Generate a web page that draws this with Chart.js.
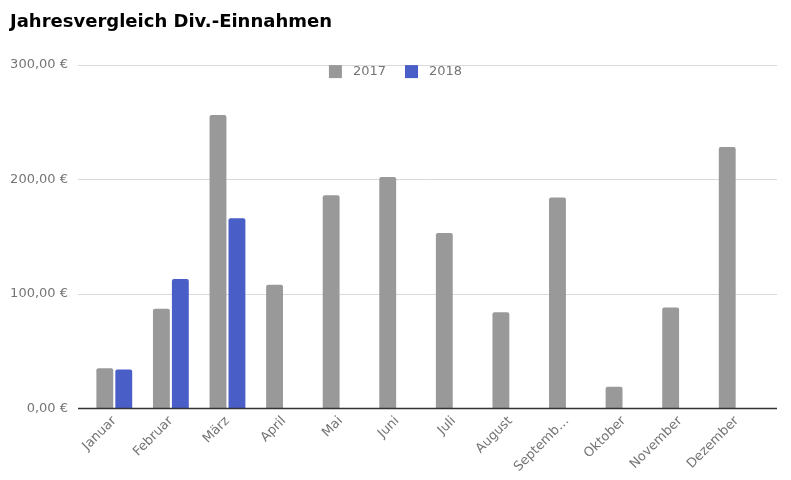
<!DOCTYPE html>
<html>
<head>
<meta charset="utf-8">
<script src="https://cdn.jsdelivr.net/npm/chart.js@4"></script>
<style>
  body { margin: 0; background: #fff; }
  #wrap { width: 791px; height: 480px; }
</style>
</head>
<body>
<div id="wrap"><canvas id="vergleich"></canvas></div>
<script>
const monate = ["Januar", "Februar", "März", "April", "Mai", "Juni", "Juli", "August", "September", "Oktober", "November", "Dezember"];
const werte2017 = [35, 87, 256, 108, 186, 202, 153, 84, 184, 19, 88, 228];
const werte2018 = [34, 113, 166, null, null, null, null, null, null, null, null, null];
const yTicks = [0, 100, 200, 300];

const grau = "#999999";
const blau = "#4a5ec8";

function euro(v) {
    return v.toFixed(2).replace(".", ",") + " €";
}

// Gitterlinien, Achse und Legende wie im Original (Legende liegt im Diagramm)
const extras = {
    id: "extras",
    beforeDatasetsDraw(chart) {
        const ctx = chart.ctx;
        const area = chart.chartArea;
        const y = chart.scales.y;
        ctx.save();
        ctx.lineWidth = 1;
        ctx.strokeStyle = "#d9d9d9";
        yTicks.slice(1).forEach((t) => {
            const py = Math.round(y.getPixelForValue(t)) + 0.5;
            ctx.beginPath();
            ctx.moveTo(area.left - 8, py);
            ctx.lineTo(area.right + 12, py);
            ctx.stroke();
        });
        ctx.restore();
    },
    afterDatasetsDraw(chart) {
        const ctx = chart.ctx;
        const area = chart.chartArea;
        const y = chart.scales.y;
        ctx.save();
        ctx.strokeStyle = "#333333";
        ctx.lineWidth = 1.5;
        const py = y.getPixelForValue(0);
        ctx.beginPath();
        ctx.moveTo(area.left - 8, py);
        ctx.lineTo(area.right + 12, py);
        ctx.stroke();

        ctx.font = "13px 'DejaVu Sans'";
        ctx.textBaseline = "middle";
        const sets = chart.data.datasets;
        const items = sets.map((d) => 13 + 11 + ctx.measureText(d.label).width);
        const gap = 19;
        let total = items.reduce((a, b) => a + b, 0) + gap * (items.length - 1);
        let x = chart.width / 2 - total / 2;
        const ly = area.top + 7;
        sets.forEach((d, i) => {
            ctx.fillStyle = d.backgroundColor;
            ctx.fillRect(x, ly - 6.5, 13, 13);
            ctx.fillStyle = "#757575";
            ctx.fillText(d.label, x + 24, ly);
            x += items[i] + gap;
        });
        ctx.restore();
    },
};

new Chart(document.getElementById("vergleich"), {
    type: "bar",
    data: {
        labels: monate,
        datasets: [
            { label: "2017", data: werte2017, backgroundColor: grau, borderRadius: 2, borderSkipped: "bottom" },
            { label: "2018", data: werte2018, backgroundColor: blau, borderRadius: 2, borderSkipped: "bottom" },
        ],
    },
    options: {
        responsive: true,
        maintainAspectRatio: false,
        animation: false,
        categoryPercentage: 0.67,
        barPercentage: 0.89,
        layout: { padding: { left: 10, right: 26, top: 0, bottom: 0 } },
        plugins: {
            legend: { display: false },
            tooltip: { enabled: false },
            title: {
                display: true,
                text: "Jahresvergleich Div.-Einnahmen",
                align: "start",
                color: "#000",
                font: { family: "'DejaVu Sans'", size: 18, weight: "bold" },
                padding: { top: 12, bottom: 31 },
            },
        },
        scales: {
            x: {
                grid: { display: false, drawTicks: false },
                border: { display: false },
                afterFit: (s) => { s.paddingLeft = 0; s.paddingRight = 0; },
                ticks: {
                    color: "#757575",
                    font: { family: "'DejaVu Sans'", size: 13 },
                    maxRotation: 45,
                    minRotation: 45,
                    autoSkip: false,
                    padding: 5,
                    callback: function (v) {
                        const l = this.getLabelForValue(v);
                        return l.length > 8 ? l.slice(0, 7) + "…" : l;
                    },
                },
            },
            y: {
                min: 0,
                max: 300,
                afterBuildTicks: (s) => { s.ticks = yTicks.map((v) => ({ value: v })); },
                afterFit: (s) => { s.width = 76; },
                grid: { display: false, drawTicks: false },
                border: { display: false },
                ticks: {
                    color: "#757575",
                    font: { family: "'DejaVu Sans'", size: 13 },
                    padding: 18,
                    callback: (v) => euro(v),
                },
            },
        },
    },
    plugins: [extras],
});
</script>
</body>
</html>
